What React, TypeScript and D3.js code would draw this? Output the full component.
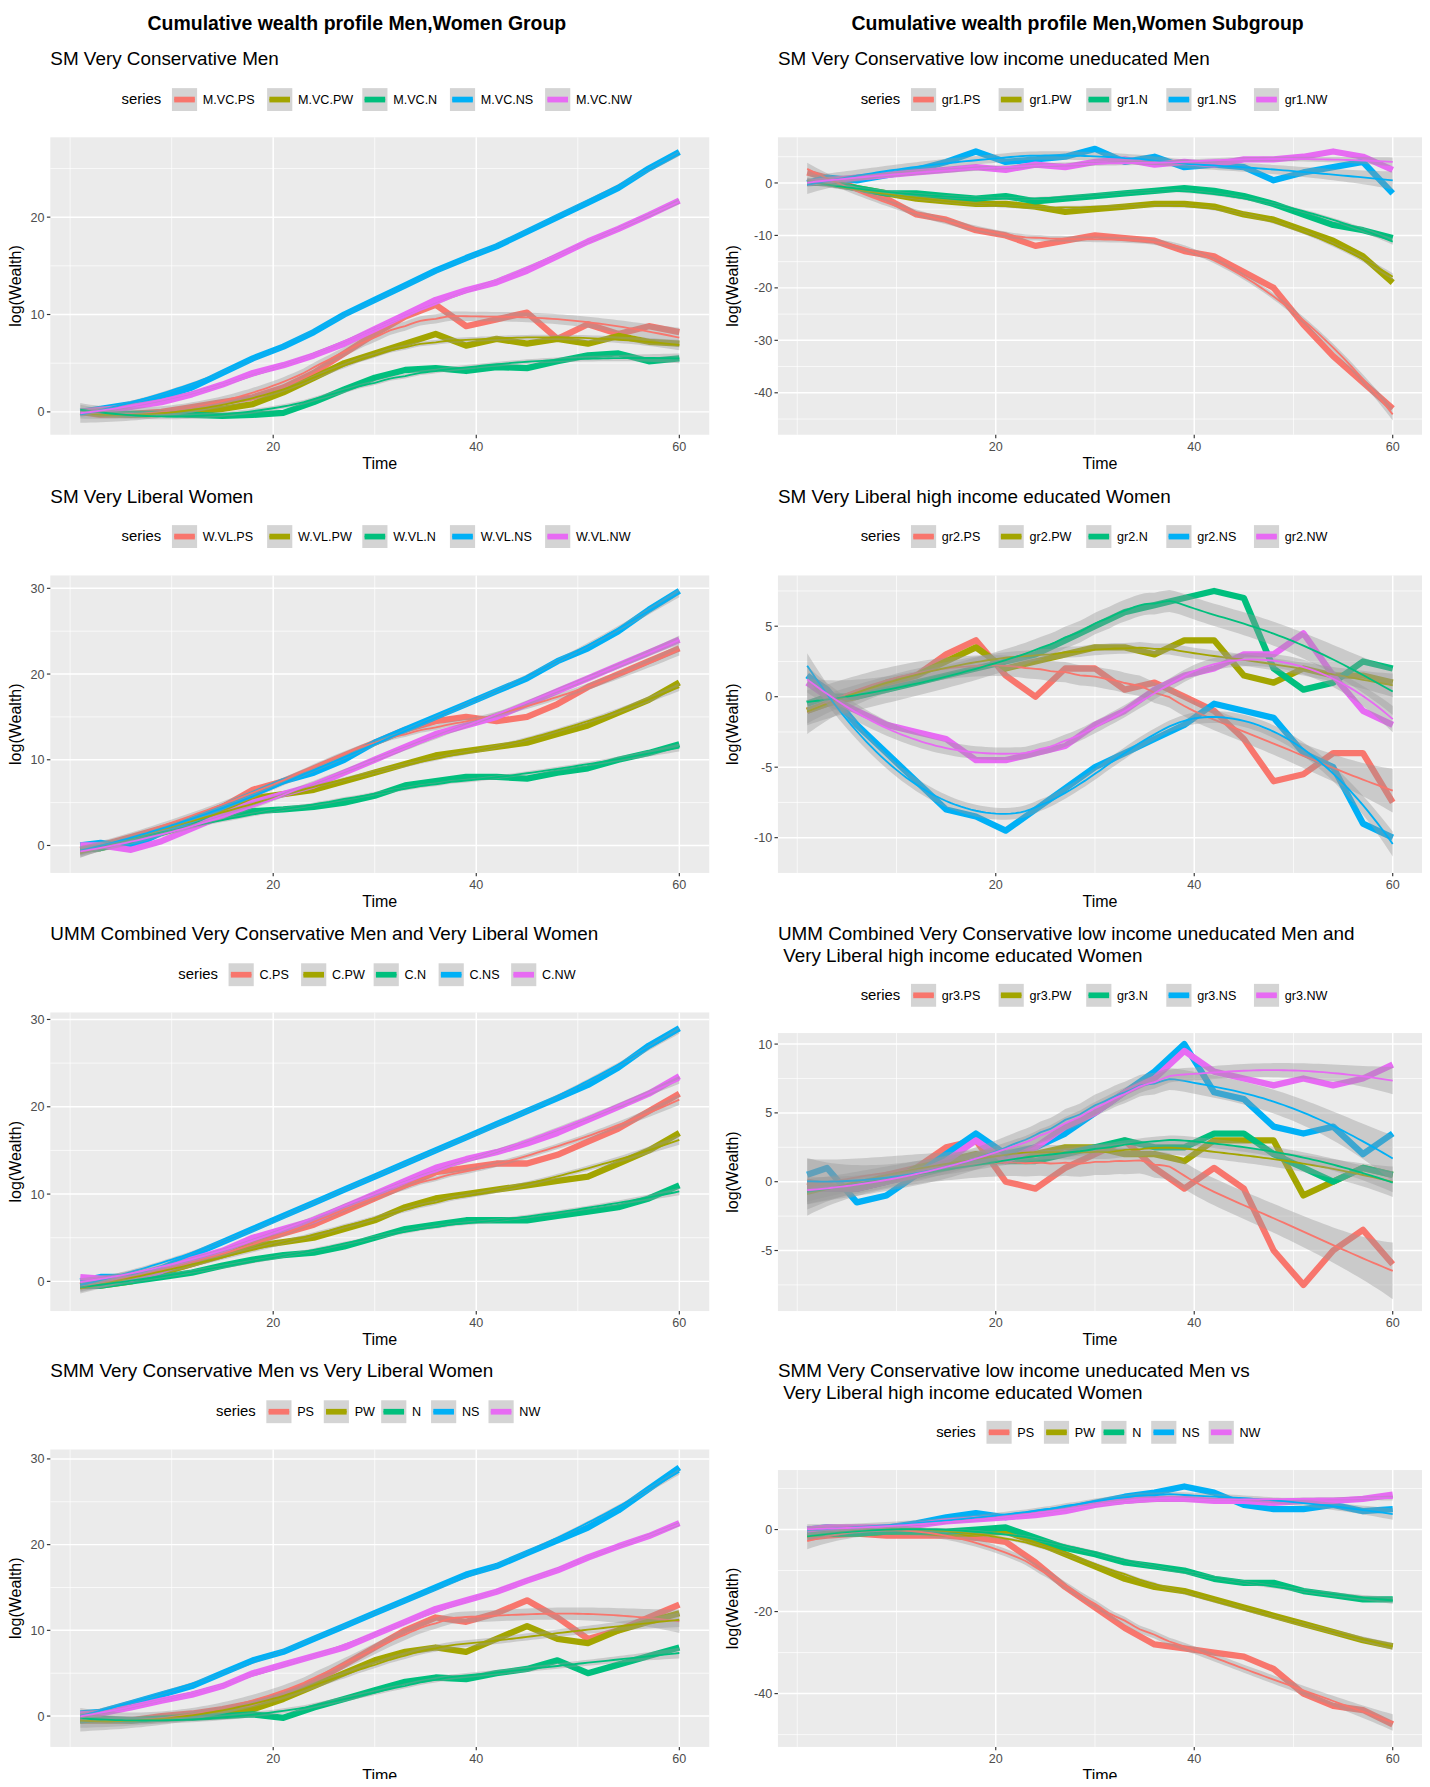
import * as d3 from 'd3';

const T = [1, 3, 6, 9, 12, 15, 18, 21, 24, 27, 30, 33, 36, 39, 42, 45, 48, 51, 54, 57, 60];
const COLORS = ['#F8766D', '#A3A500', '#00BF7D', '#00B0F6', '#E76BF3'];

// series order: PS, PW, N, NS, NW
const mvc = [
  [0, -0.3, -0.2, 0, 0.5, 1, 1.5, 2.5, 4, 6, 8, 9.8, 11, 8.8, 9.5, 10.2, 7.5, 9, 8, 8.8, 8.2],
  [0, -0.2, -0.3, -0.2, 0, 0.3, 0.8, 2, 3.5, 5, 6, 7, 8, 6.8, 7.5, 7, 7.5, 7, 7.8, 7.2, 7],
  [0, 0, -0.2, -0.2, -0.3, -0.4, -0.3, -0.1, 1, 2.3, 3.5, 4.3, 4.5, 4.2, 4.6, 4.5, 5.2, 5.8, 6, 5.2, 5.5],
  [0, 0.3, 0.8, 1.5, 2.5, 4, 5.5, 6.7, 8.2, 10, 11.5, 13, 14.5, 15.8, 17, 18.5, 20, 21.5, 23, 25, 26.7],
  [0, 0.2, 0.5, 1, 1.8, 2.8, 4, 4.8, 5.8, 7, 8.5, 10, 11.5, 12.5, 13.3, 14.5, 16, 17.5, 18.8, 20.2, 21.7],
];
const gr1 = [
  [2, 1, -1, -3, -6, -7, -9, -10, -12, -11, -10, -10.5, -11, -13, -14, -17, -20, -27, -33, -38, -43],
  [0, 0, -1, -2, -3, -3.5, -4, -4, -4.5, -5.5, -5, -4.5, -4, -4, -4.5, -6, -7, -9, -11, -14, -19],
  [0, 0, -1, -2, -2, -2.5, -3, -2.5, -3.5, -3, -2.5, -2, -1.5, -1, -1.5, -2.5, -4, -6, -8, -9, -10.5],
  [0, 1, 0.5, 1.5, 2.5, 4, 6, 4, 4.5, 5, 6.5, 4, 5, 3, 3.5, 3, 0.5, 2, 3, 4, -2],
  [0, 0.5, 1, 1.5, 2, 2.5, 3, 2.5, 3.5, 3, 4, 4.5, 3.5, 4, 3.5, 4.5, 4.5, 5, 6, 5, 2.5],
];
const wvl = [
  [-0.5, 0, 1, 2, 3, 4.5, 6.5, 7.5, 9, 10.5, 12, 13.5, 14.5, 15, 14.5, 15, 16.5, 18.5, 20, 21.5, 23],
  [-0.5, -0.3, 0.5, 1.5, 2.5, 4, 5.5, 6, 6.5, 7.5, 8.5, 9.5, 10.5, 11, 11.5, 12, 13, 14, 15.5, 17, 19],
  [-0.5, -0.3, 0.5, 1.5, 2.5, 3.3, 4, 4.2, 4.5, 5, 5.8, 7, 7.5, 8, 8, 7.8, 8.5, 9, 10, 10.8, 11.8],
  [0, 0.3, -0.2, 1.5, 3, 4.5, 6, 7.5, 8.5, 10, 12, 13.5, 15, 16.5, 18, 19.5, 21.5, 23, 25, 27.5, 29.7],
  [0, 0, -0.5, 0.5, 2, 3.5, 5, 6, 7, 8.5, 10, 11.5, 13, 14, 15, 16.5, 18, 19.5, 21, 22.5, 24],
];
const gr2 = [
  [-1, -0.5, 0.3, 0.8, 1.5, 3, 4, 1.5, 0, 2, 2, 0.5, 1, 0, -1, -3, -6, -5.5, -4, -4, -7.5],
  [-1, -0.5, 0, 1, 1.5, 2.5, 3.5, 2, 2.5, 3, 3.5, 3.5, 3, 4, 4, 1.5, 1, 2, 1.5, 1.5, 1],
  [-0.5, 0, 0, 0.5, 1, 1.5, 2, 2.5, 3, 4, 5, 6, 6.5, 7, 7.5, 7, 2, 0.5, 1, 2.5, 2],
  [1.5, 0.5, -2, -4, -6, -8, -8.5, -9.5, -8, -6.5, -5, -4, -3, -2, -0.5, -1, -1.5, -4, -5, -9, -10],
  [1, 0, -1, -2, -2.5, -3, -4.5, -4.5, -4, -3.5, -2, -1, 0.5, 1.5, 2, 3, 3, 4.5, 1.5, -1, -2],
];
const comb = [
  [-0.5, 0, 0.3, 1, 2, 3, 4.5, 5.5, 6.5, 8, 9.5, 11, 12.5, 13, 13.5, 13.5, 14.5, 16, 17.5, 19.5, 21.5],
  [-0.5, -0.5, 0, 1, 2, 3, 4, 4.5, 5, 6, 7, 8.5, 9.5, 10, 10.5, 11, 11.5, 12, 13.5, 15, 17],
  [-0.5, -0.5, 0, 0.5, 1, 1.8, 2.5, 3, 3.3, 4, 5, 6, 6.5, 7, 7, 7, 7.5, 8, 8.5, 9.5, 11],
  [0, 0.5, 0.5, 1.5, 3, 4.5, 6, 7.5, 9, 10.5, 12, 13.5, 15, 16.5, 18, 19.5, 21, 22.5, 24.5, 27, 29],
  [0.5, 0.3, 0.3, 1.2, 2.5, 3.5, 5, 6, 7, 8.5, 10, 11.5, 13, 14, 14.8, 15.8, 17, 18.5, 20, 21.5, 23.5],
];
const gr3 = [
  [0, -0.3, -0.5, 0.5, 1, 2.5, 3, 0, -0.5, 1, 2, 3, 1, -0.5, 1, -0.5, -5, -7.5, -5, -3.5, -6],
  [-0.5, -0.5, -0.5, 0, 1, 1.5, 2, 1.5, 2, 2.5, 2.5, 2, 2, 1.5, 3, 3, 3, -1, 0, 1, 0.5],
  [-0.5, -0.5, -0.5, 0, 0.5, 1, 1.5, 1.5, 1.5, 2, 2.5, 3, 2.5, 2.5, 3.5, 3.5, 2, 1, 0, 1, 0.5],
  [0.5, 1, -1.5, -1, 0.5, 2, 3.5, 2, 2.5, 3.5, 5, 6.5, 8, 10, 6.5, 6, 4, 3.5, 4, 2, 3.5],
  [-0.5, -0.5, -0.5, 0, 0.5, 1.5, 3, 1.5, 2.5, 4, 5, 6.5, 7.5, 9.5, 8, 7.5, 7, 7.5, 7, 7.5, 8.5],
];
const smm = [
  [-0.5, -0.5, -0.5, 0, 0.3, 0.8, 1.5, 2.5, 4, 6, 8, 10, 11.5, 11, 12, 13.5, 11.5, 9, 10, 11.5, 13],
  [-0.5, -0.5, -0.5, -0.3, 0, 0.3, 0.8, 2, 3.5, 5, 6.5, 7.5, 8, 7.5, 9, 10.5, 9, 8.5, 10, 11, 12],
  [-0.5, -0.3, -0.5, -0.3, -0.2, 0, 0.2, -0.2, 1, 2, 3, 4, 4.5, 4.3, 5, 5.5, 6.5, 5, 6, 7, 8],
  [0.3, 0.5, 1.5, 2.5, 3.5, 5, 6.5, 7.5, 9, 10.5, 12, 13.5, 15, 16.5, 17.5, 19, 20.5, 22, 24, 26.5, 29],
  [0.2, 0.3, 1, 1.8, 2.5, 3.5, 5, 6, 7, 8, 9.5, 11, 12.5, 13.5, 14.5, 15.8, 17, 18.5, 19.8, 21, 22.5],
];
const smmSub = [
  [-2, -1.5, -1, -1.5, -1.5, -1.5, -2, -3, -8, -14, -19, -24, -28, -29, -30, -31, -34, -40, -43, -44, -47.5],
  [-1, -1, -1, -0.5, -0.5, -1, -1, -0.5, -3, -6, -9, -12, -14, -15, -17, -19, -21, -23, -25, -27, -28.5],
  [-1, -1, -1, -0.5, -0.5, -0.5, 0, 0.5, -2, -4.5, -6, -8, -9, -10, -12, -13, -13, -15, -16, -17, -17],
  [0, 0.5, 0, 0.5, 1.5, 3, 4, 3, 4, 5, 6.5, 8, 9, 10.5, 9, 6, 5, 5, 6, 4.5, 5],
  [0, 0.5, 0.5, 0.5, 1, 2, 2.5, 3, 3.5, 4.5, 6, 7, 7.5, 7.5, 7, 7, 6.5, 7, 7, 7.5, 8.5],
];

const X_TICKS = [20, 40, 60];
const X_MINOR = [0, 10, 30, 50];

interface Panel {
  title: string[];
  titleY: number;
  legendY: number;
  keys: string[];
  box: [number, number, number, number];
  yDomain: [number, number];
  yTicks: number[];
  series: number[][];
}

const panels: Panel[] = [
  { title: ['SM Very Conservative Men'], titleY: 52, legendY: 87, keys: ['M.VC.PS', 'M.VC.PW', 'M.VC.N', 'M.VC.NS', 'M.VC.NW'], box: [44, 120, 620, 380], yDomain: [-2.35, 28.2], yTicks: [0, 10, 20], series: mvc },
  { title: ['SM Very Conservative low income uneducated Men'], titleY: 52, legendY: 87, keys: ['gr1.PS', 'gr1.PW', 'gr1.N', 'gr1.NS', 'gr1.NW'], box: [680, 120, 1243, 380], yDomain: [-48, 8.7], yTicks: [-40, -30, -20, -10, 0], series: gr1 },
  { title: ['SM Very Liberal Women'], titleY: 435, legendY: 469, keys: ['W.VL.PS', 'W.VL.PW', 'W.VL.N', 'W.VL.NS', 'W.VL.NW'], box: [44, 503, 620, 763], yDomain: [-3.2, 31.5], yTicks: [0, 10, 20, 30], series: wvl },
  { title: ['SM Very Liberal high income educated Women'], titleY: 435, legendY: 469, keys: ['gr2.PS', 'gr2.PW', 'gr2.N', 'gr2.NS', 'gr2.NW'], box: [680, 503, 1243, 763], yDomain: [-12.5, 8.6], yTicks: [-10, -5, 0, 5], series: gr2 },
  { title: ['UMM Combined Very Conservative Men and Very Liberal Women'], titleY: 817, legendY: 852, keys: ['C.PS', 'C.PW', 'C.N', 'C.NS', 'C.NW'], box: [44, 885, 620, 1146], yDomain: [-3.4, 30.8], yTicks: [0, 10, 20, 30], series: comb },
  { title: ['UMM Combined Very Conservative low income uneducated Men and', ' Very Liberal high income educated Women'], titleY: 817, legendY: 870, keys: ['gr3.PS', 'gr3.PW', 'gr3.N', 'gr3.NS', 'gr3.NW'], box: [680, 903, 1243, 1146], yDomain: [-9.4, 10.8], yTicks: [-5, 0, 5, 10], series: gr3 },
  { title: ['SMM Very Conservative Men vs Very Liberal Women'], titleY: 1199, legendY: 1234, keys: ['PS', 'PW', 'N', 'NS', 'NW'], box: [44, 1267, 620, 1527], yDomain: [-3.6, 31.1], yTicks: [0, 10, 20, 30], series: smm },
  { title: ['SMM Very Conservative low income uneducated Men vs', ' Very Liberal high income educated Women'], titleY: 1199, legendY: 1252, keys: ['PS', 'PW', 'N', 'NS', 'NW'], box: [680, 1285, 1243, 1527], yDomain: [-53, 14.5], yTicks: [-40, -20, 0], series: smmSub },
];

// local quadratic regression (loess-like, span 0.75)
function loess(xs: number[], ys: number[]) {
  const n = xs.length;
  const q = Math.ceil(0.75 * n);
  const out: { x: number; y: number; se: number }[] = [];
  const fits: number[] = [];
  const fitAt = (x0: number) => {
    const d = xs.map(x => Math.abs(x - x0));
    const h = [...d].sort((a, b) => a - b)[q - 1] * 1.0001;
    const w = d.map(v => (v < h ? Math.pow(1 - Math.pow(v / h, 3), 3) : 0));
    const S = Array.from({ length: 3 }, () => [0, 0, 0, 0]);
    for (let i = 0; i < n; i++) {
      const u = xs[i] - x0;
      const b = [1, u, u * u];
      for (let r = 0; r < 3; r++) {
        for (let c = 0; c < 3; c++) S[r][c] += w[i] * b[r] * b[c];
        S[r][3] += w[i] * b[r] * ys[i];
      }
    }
    for (let r = 0; r < 3; r++) {
      let p = r;
      for (let k = r + 1; k < 3; k++) if (Math.abs(S[k][r]) > Math.abs(S[p][r])) p = k;
      [S[r], S[p]] = [S[p], S[r]];
      for (let k = 0; k < 3; k++) {
        if (k === r) continue;
        const f = S[k][r] / S[r][r];
        for (let c = r; c < 4; c++) S[k][c] -= f * S[r][c];
      }
    }
    return S[0][3] / S[0][0];
  };
  xs.forEach(x => fits.push(fitAt(x)));
  const sigma = Math.sqrt(d3.sum(ys.map((y, i) => (y - fits[i]) ** 2)) / Math.max(1, n - 4));
  for (let x = xs[0]; x <= xs[n - 1] + 1e-9; x += 0.5) {
    const edge = Math.min(x - xs[0], xs[n - 1] - x);
    const se = sigma * (0.3 + 0.35 * Math.exp(-edge / 5));
    out.push({ x, y: fitAt(x), se });
  }
  return out;
}

function PanelView({ p, right }: { p: Panel; right: boolean }) {
  const [x0, y0, x1, y1] = p.box;
  const x = d3.scaleLinear().domain([-1.95, 62.95]).range([x0, x1]);
  const y = d3.scaleLinear().domain(p.yDomain).range([y1, y0]);
  const yMinor: number[] = [];
  const step = p.yTicks[1] - p.yTicks[0];
  for (let v = p.yTicks[0] - step / 2; v <= p.yDomain[1]; v += step) if (v > p.yDomain[0]) yMinor.push(v);
  const line = d3.line<[number, number]>().x(d => x(d[0])).y(d => y(d[1]));
  const smooths = p.series.map(s => loess(T, s));
  const area = d3.area<{ x: number; y: number; se: number }>().x(d => x(d.x)).y0(d => y(d.y - 1.96 * d.se)).y1(d => y(d.y + 1.96 * d.se));
  const sline = d3.line<{ x: number; y: number }>().x(d => x(d.x)).y(d => y(d.y));
  const cx = (x0 + x1) / 2;

  // legend
  const labW = p.keys.map(k => k.length * 6.6);
  const total = 42 + d3.sum(labW.map(w => 22 + 5 + w + 10));
  let lx = cx - total / 2;
  const legend = [] as any[];
  legend.push(<text key="s" x={lx} y={p.legendY + 4} fontSize={13} fill="#000">series</text>);
  lx += 44;
  p.keys.forEach((k, i) => {
    legend.push(
      <g key={k} transform={`translate(${lx},${p.legendY - 10})`}>
        <rect width={22} height={20} fill="#d4d4d4" />
        <line x1={2} x2={20} y1={10} y2={10} stroke={COLORS[i]} strokeWidth={5} />
        <line x1={2} x2={20} y1={10} y2={10} stroke={COLORS[i]} strokeWidth={1.5} />
        <text x={27} y={14} fontSize={11} fill="#000">{k}</text>
      </g>
    );
    lx += 22 + 5 + labW[i] + 10;
  });

  return (
    <g>
      {p.title.map((t, i) => (
        <text key={i} x={x0} y={p.titleY + 5 + i * 19} fontSize={16.5} fill="#000" style={{ whiteSpace: 'pre' }}>{t}</text>
      ))}
      {legend}
      <rect x={x0} y={y0} width={x1 - x0} height={y1 - y0} fill="#ebebeb" />
      {yMinor.map(v => <line key={'ym' + v} x1={x0} x2={x1} y1={y(v)} y2={y(v)} stroke="#fff" strokeWidth={0.6} />)}
      {X_MINOR.map(v => <line key={'xm' + v} x1={x(v)} x2={x(v)} y1={y0} y2={y1} stroke="#fff" strokeWidth={0.6} />)}
      {p.yTicks.map(v => <line key={'y' + v} x1={x0} x2={x1} y1={y(v)} y2={y(v)} stroke="#fff" strokeWidth={1.3} />)}
      {X_TICKS.map(v => <line key={'x' + v} x1={x(v)} x2={x(v)} y1={y0} y2={y1} stroke="#fff" strokeWidth={1.3} />)}
      {p.series.map((s, i) => (
        <path key={'l' + i} d={line(T.map((t, j) => [t, s[j]]))!} fill="none" stroke={COLORS[i]} strokeWidth={5.5} strokeLinejoin="round" />
      ))}
      {smooths.map((s, i) => (
        <g key={'s' + i}>
          <path d={area(s)!} fill="#999" fillOpacity={0.4} />
          <path d={sline(s)!} fill="none" stroke={COLORS[i]} strokeWidth={1.6} />
        </g>
      ))}
      {p.yTicks.map(v => (
        <g key={'yt' + v}>
          <line x1={x0 - 3} x2={x0} y1={y(v)} y2={y(v)} stroke="#333" />
          <text x={x0 - 5} y={y(v) + 4} fontSize={11} fill="#4d4d4d" textAnchor="end">{v}</text>
        </g>
      ))}
      {X_TICKS.map(v => (
        <g key={'xt' + v}>
          <line x1={x(v)} x2={x(v)} y1={y1} y2={y1 + 3} stroke="#333" />
          <text x={x(v)} y={y1 + 14} fontSize={11} fill="#4d4d4d" textAnchor="middle">{v}</text>
        </g>
      ))}
      <text x={cx} y={y1 + 30} fontSize={14} textAnchor="middle" fill="#000">Time</text>
      <text transform={`translate(${x0 - (right ? 35 : 26)},${(y0 + y1) / 2}) rotate(-90)`} fontSize={14} textAnchor="middle" fill="#000">log(Wealth)</text>
    </g>
  );
}

export default function App() {
  return (
    <svg width={1430} height={1787} viewBox="0 0 1250 1562" style={{ display: 'block', margin: -8, fontFamily: 'Liberation Sans, Arial, sans-serif' }}>
      <rect width={1250} height={1562} fill="#fff" />
      <text x={312} y={26} fontSize={17} fontWeight="bold" textAnchor="middle">Cumulative wealth profile Men,Women Group</text>
      <text x={942} y={26} fontSize={17} fontWeight="bold" textAnchor="middle">Cumulative wealth profile Men,Women Subgroup</text>
      {panels.map((p, i) => <PanelView key={i} p={p} right={i % 2 === 1} />)}
    </svg>
  );
}
